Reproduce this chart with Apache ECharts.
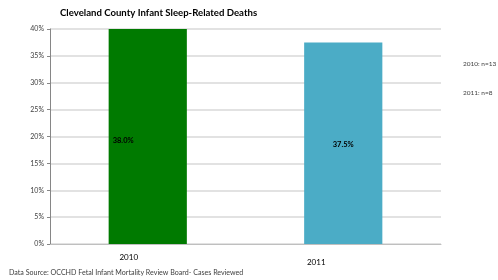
<!DOCTYPE html>
<html><head><meta charset="utf-8">
<script src="https://cdn.jsdelivr.net/npm/echarts@6/dist/echarts.min.js"></script>
<style>html,body{margin:0;padding:0;background:#fff}#c{width:498px;height:280px}</style>
</head><body><div id="c"></div>
<script>
const categories = ['2010', '2011'];
const barValues = [40, 37.5];
const barLabels = ['38.0%', '37.5%'];
const barColors = ['#007A00', '#4BACC6'];
const yTicks = [0, 5, 10, 15, 20, 25, 30, 35, 40];
const notes = ['2010: n=13', '2011: n=8'];
const titleText = 'Cleveland County Infant Sleep-Related Deaths';
const sourceText = 'Data Source: OCCHD Fetal Infant Mortality Review Board- Cases Reviewed';

const FONT = 'Lato, "Open Sans", sans-serif';
const chart = echarts.init(document.getElementById('c'), null, {renderer: 'canvas'});
chart.setOption({
  animation: false,
  title: {text: titleText, left: 60, top: 8, padding: 0,
    textStyle: {fontFamily: FONT, fontSize: 9.6, fontWeight: 'bold', color: '#000'}},
  grid: {left: 50, right: 57, top: 29, bottom: 36, containLabel: false},
  xAxis: {type: 'category', data: categories,
    axisLine: {lineStyle: {color: '#BFBFBF', width: 1}},
    axisTick: {show: false},
    axisLabel: {fontFamily: FONT, fontSize: 8, color: '#000', margin: 9,
      formatter: (v, i) => i === 0 ? '{a|' + v + '}' : '{b|' + v + '}',
      rich: {a: {fontFamily: FONT, fontSize: 8, color: '#000', padding: [0, 38, 0, 0]},
             b: {fontFamily: FONT, fontSize: 8, color: '#000', padding: [5, 54, 0, 0]}}}},
  yAxis: {type: 'value', min: yTicks[0], max: yTicks[yTicks.length - 1], interval: 5,
    axisLine: {show: true, lineStyle: {color: '#868686', width: 1}},
    axisTick: {show: true, length: 3, lineStyle: {color: '#868686'}},
    splitLine: {lineStyle: {color: '#D9D9D9', width: 1.5}},
    axisLabel: {fontFamily: FONT, fontSize: 7, color: '#404040', margin: 6, formatter: '{value}%'}},
  series: [{type: 'bar', barWidth: '40%',
    data: barValues.map((v, i) => ({value: v, itemStyle: {color: barColors[i]},
      label: {show: true, formatter: barLabels[i],
        position: i === 0 ? 'insideLeft' : 'inside', offset: i === 0 ? [-1, 4] : [0, 1]}})),
    label: {fontFamily: FONT, fontSize: 7.5, fontWeight: 'bold', color: '#000'}}],
  graphic: [
    {type: 'text', left: 463, top: 60, style: {text: notes[0], fontFamily: FONT, fontSize: 6.5, fill: '#404040'}},
    {type: 'text', left: 463, top: 89, style: {text: notes[1], fontFamily: FONT, fontSize: 6.5, fill: '#404040'}},
    {type: 'text', left: 9, top: 269, style: {text: sourceText, fontFamily: FONT, fontSize: 7.1, fill: '#404040'}}
  ]
});
</script></body></html>
